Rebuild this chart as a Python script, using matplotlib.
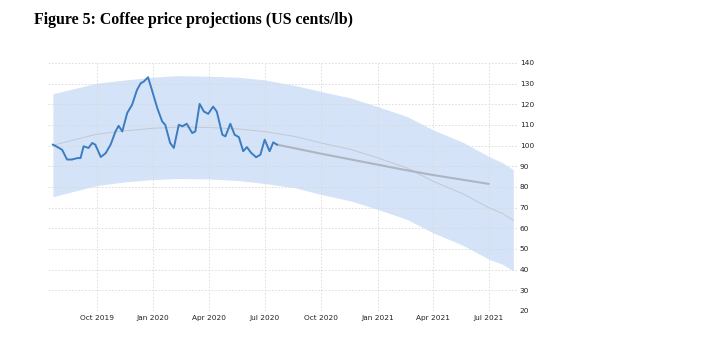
import matplotlib
matplotlib.use('Agg')
import matplotlib.pyplot as plt
import matplotlib.dates as mdates
import pandas as pd

# Weekly-ish coffee price (US cents/lb)
price_dates = [
    '2019-07-22', '2019-08-01', '2019-08-06', '2019-08-14', '2019-08-22',
    '2019-08-31', '2019-09-05', '2019-09-10', '2019-09-18', '2019-09-24',
    '2019-09-29', '2019-10-08', '2019-10-16', '2019-10-24', '2019-11-01',
    '2019-11-06', '2019-11-12', '2019-11-20', '2019-11-28', '2019-12-06',
    '2019-12-12', '2019-12-17', '2019-12-24', '2019-12-31', '2020-01-08',
    '2020-01-16', '2020-01-21', '2020-01-29', '2020-02-04', '2020-02-12',
    '2020-02-18', '2020-02-25', '2020-03-05', '2020-03-10', '2020-03-17',
    '2020-03-24', '2020-03-31', '2020-04-08', '2020-04-14', '2020-04-23',
    '2020-04-28', '2020-05-06', '2020-05-13', '2020-05-20', '2020-05-27',
    '2020-06-02', '2020-06-09', '2020-06-17', '2020-06-24', '2020-07-01',
    '2020-07-09', '2020-07-15', '2020-07-21']
price = [
    100.5, 98.9, 98.0, 93.3, 93.3,
    94.0, 94.0, 99.7, 98.9, 101.3,
    100.5, 94.5, 96.4, 100.5, 106.9,
    109.6, 106.9, 115.8, 119.8, 127.0,
    130.2, 131.0, 133.1, 126.2, 118.2,
    111.7, 110.1, 101.3, 98.9, 110.1,
    109.4, 110.6, 106.1, 106.9, 120.2,
    116.5, 115.4, 118.9, 116.5, 105.3,
    104.5, 110.6, 105.3, 104.1, 97.3,
    99.3, 96.5, 94.4, 95.6, 102.9,
    97.3, 101.6, 100.5]

# Forecast path
fc_dates = ['2020-07-21', '2020-10-01', '2021-01-01', '2021-02-12',
            '2021-04-01', '2021-07-01']
fc_price = [100.5, 96.1, 90.8, 88.4, 85.8, 81.5]

# Projection range
band_dates = [
    '2019-07-22', '2019-10-01', '2019-11-17', '2020-01-01', '2020-02-11',
    '2020-04-01', '2020-05-19', '2020-07-01', '2020-08-20', '2020-10-01',
    '2020-11-19', '2021-01-01', '2021-02-18', '2021-04-01', '2021-05-20',
    '2021-07-01', '2021-07-23', '2021-08-10']
band_hi = [125.1, 130.2, 131.8, 133.1, 133.9, 133.6, 133.1, 131.8, 129.1,
           126.2, 123.0, 118.9, 114.1, 107.7, 101.6, 94.8, 91.8, 88.4]
band_lo = [75.3, 80.7, 82.5, 83.6, 84.1, 83.9, 83.1, 81.7, 79.6, 76.4,
           73.2, 69.2, 64.3, 57.9, 51.8, 45.1, 42.7, 39.4]
band_mid = [100.2, 105.5, 107.2, 108.4, 109.0, 108.8, 108.1, 106.8, 104.4,
            101.3, 98.1, 94.1, 89.2, 82.8, 76.7, 70.0, 67.3, 63.9]

tick_dates = ['2019-10-01', '2020-01-01', '2020-04-01', '2020-07-01',
              '2020-10-01', '2021-01-01', '2021-04-01', '2021-07-01']
tick_labels = ['Oct 2019', 'Jan 2020', 'Apr 2020', 'Jul 2020',
               'Oct 2020', 'Jan 2021', 'Apr 2021', 'Jul 2021']
y_ticks = list(range(20, 141, 10))

fig = plt.figure(figsize=(7.22, 3.49), dpi=100)
fig.text(0.047, 0.931, 'Figure 5: Coffee price projections (US cents/lb)',
         family='Liberation Serif', weight='bold', fontsize=11.4,
         va='baseline', ha='left', color='black')

ax = fig.add_axes([0.0665, 0.1089, 0.6495, 0.7106])

bd = pd.to_datetime(band_dates)
ax.fill_between(bd, band_lo, band_hi, color='#d4e3f8', lw=0, zorder=1)
ax.plot(bd, band_mid, color='#c3c8d2', lw=0.7, zorder=3)
ax.plot(pd.to_datetime(fc_dates), fc_price, color='#adb5c2', lw=1.5,
        solid_capstyle='round', zorder=3)
ax.plot(pd.to_datetime(price_dates), price, color='#3b7dc0', lw=1.4,
        solid_joinstyle='round', zorder=4)

ax.set_xlim(pd.Timestamp('2019-07-14'), pd.Timestamp('2021-08-16'))
ax.set_ylim(20, 140)
ax.set_xticks(pd.to_datetime(tick_dates))
ax.set_xticklabels(tick_labels)
ax.set_yticks(y_ticks)
ax.yaxis.tick_right()

for s in ax.spines.values():
    s.set_visible(False)
ax.grid(True, color='#d9d9d9', linestyle=(0, (2, 2)), lw=0.6, zorder=2)
ax.tick_params(axis='both', length=0, labelsize=5.3, colors='#222222')
ax.tick_params(axis='x', pad=3)
ax.tick_params(axis='y', pad=2)

fig.savefig('out.png', dpi=100)
